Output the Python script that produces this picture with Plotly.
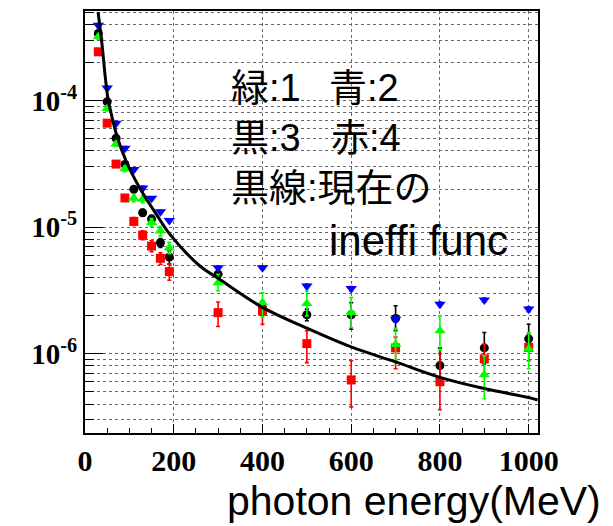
import plotly.graph_objects as go

# Photon energy bins (MeV)
energy = [30, 50, 70, 90, 110, 130, 150, 170, 190, 300, 400, 500, 600, 700, 800, 900, 1000]

# Inefficiency for configuration 1 (green)
green_val = [3.19e-4, 8.65e-5, 4.53e-5, 2.89e-5, 1.69e-5, 1.66e-5, 1.09e-5, 9.3e-6, 6.87e-6,
             3.64e-6, 2.53e-6, 2.49e-6, 2.11e-6, 1.18e-6, 1.52e-6, 6.8e-7, 1.09e-6]
green_err_hi = [1.4e-5, 3.5e-6, 1.8e-6, 1.3e-6, 1.0e-6, 1.0e-6, 8e-7, 8e-7, 7e-7,
                6e-7, 5e-7, 6.4e-7, 6.6e-7, 4.1e-7, 4.7e-7, 2.8e-7, 3.8e-7]
green_err_lo = [1.4e-5, 3.5e-6, 1.8e-6, 1.3e-6, 1.0e-6, 1.0e-6, 8e-7, 8e-7, 7e-7,
                5e-7, 6e-7, 5e-7, 5e-7, 3e-7, 4.6e-7, 2.4e-7, 3.3e-7]

# Configuration 2 (blue)
blue_val = [3.94e-4, 1.26e-4, 6.63e-5, 4.21e-5, 2.85e-5, 2.04e-5, 1.69e-5, 1.32e-5, 1.13e-5,
            4.78e-6, 4.78e-6, 3.43e-6, 3.27e-6, 1.87e-6, 2.46e-6, 2.65e-6, 2.25e-6]
blue_err = [1.2e-5, 4e-6, 2e-6, 1.3e-6, 9e-7, 6e-7, 5e-7, 4e-7, 3.5e-7,
            1.5e-7, 1.5e-7, 1.2e-7, 1.2e-7, 1e-7, 1e-7, 1e-7, 1e-7]

# Configuration 3 (black)
black_val = [3.39e-4, 9.8e-5, 5.05e-5, 3.13e-5, 1.99e-5, 1.30e-5, 1.16e-5, 7.52e-6, 5.81e-6,
             4.25e-6, 2.3e-6, 2.03e-6, 2.03e-6, 1.90e-6, 8.05e-7, 1.11e-6, 1.31e-6]
black_err_hi = [1.5e-5, 4e-6, 2e-6, 1.4e-6, 1e-6, 8e-7, 8e-7, 6e-7, 7e-7,
                3e-7, 3e-7, 2.2e-7, 5e-7, 4.9e-7, 3e-7, 3.6e-7, 4e-7]
black_err_lo = [1.5e-5, 4e-6, 2e-6, 1.4e-6, 1e-6, 8e-7, 8e-7, 6e-7, 7e-7,
                3e-7, 3e-7, 2.1e-7, 4.7e-7, 3.8e-7, 2e-7, 2.8e-7, 2.5e-7]

# Configuration 4 (red)
red_val = [2.43e-4, 6.63e-5, 3.15e-5, 1.70e-5, 1.11e-5, 8.65e-6, 7.08e-6, 5.67e-6, 4.45e-6,
           2.11e-6, 2.18e-6, 1.20e-6, 6.2e-7, 1.11e-6, 6.0e-7, 9.1e-7, 1.12e-6]
red_err_hi = [1.2e-5, 3e-6, 1.6e-6, 1e-6, 8e-7, 7e-7, 7e-7, 6e-7, 6.5e-7,
              4.5e-7, 3.7e-7, 3.2e-7, 2.6e-7, 2.4e-7, 4e-7, 2.8e-7, 3.1e-7]
red_err_lo = [1.2e-5, 3e-6, 1.6e-6, 1e-6, 8e-7, 7e-7, 7e-7, 6e-7, 6.5e-7,
              4.7e-7, 4.7e-7, 3.5e-7, 2.4e-7, 3.5e-7, 2.4e-7, 2.2e-7, 2.4e-7]

# Current inefficiency function (black line)
func_x = [29.5, 38.4, 46, 52, 58, 71, 93, 123, 161, 191, 259, 300, 400, 500, 600, 700, 800, 900, 1000, 1020]
func_y = [5.0e-4, 2.77e-4, 1.5e-4, 1.02e-4, 8.2e-5, 5.4e-5, 3.3e-5, 2.05e-5, 1.26e-5, 8.8e-6,
          4.93e-6, 3.94e-6, 2.32e-6, 1.59e-6, 1.13e-6, 8.6e-7, 6.5e-7, 5.3e-7, 4.5e-7, 4.3e-7]

# Axis ticks
x_major = [0, 200, 400, 600, 800, 1000]
y_major = [1e-6, 1e-5, 1e-4]
y_major_text = ["10<sup>-6</sup>", "10<sup>-5</sup>", "10<sup>-4</sup>"]
y_minor = [3e-7, 4e-7, 5e-7, 6e-7, 7e-7, 8e-7, 9e-7,
           2e-6, 3e-6, 4e-6, 5e-6, 6e-6, 7e-6, 8e-6, 9e-6,
           2e-5, 3e-5, 4e-5, 5e-5, 6e-5, 7e-5, 8e-5, 9e-5,
           2e-4, 3e-4, 4e-4, 5e-4]

fig = go.Figure()


def add_series(vals, hi, lo, color, symbol, size):
    fig.add_trace(go.Scatter(
        x=energy, y=vals, mode="markers",
        marker=dict(color=color, symbol=symbol, size=size, line=dict(width=0)),
        error_y=dict(type="data", symmetric=False, array=hi, arrayminus=lo,
                     color=color, thickness=1.6, width=2),
        showlegend=False,
    ))


add_series(black_val, black_err_hi, black_err_lo, "#000000", "circle", 9)
add_series(red_val, red_err_hi, red_err_lo, "#ff0000", "square", 9)
add_series(green_val, green_err_hi, green_err_lo, "#00ff00", "triangle-up", 10)
add_series(blue_val, blue_err, blue_err, "#0000ff", "triangle-down", 10)

fig.add_trace(go.Scatter(
    x=func_x, y=func_y, mode="lines", line=dict(color="black", width=3, shape="spline"),
    showlegend=False,
))

grid = dict(showgrid=True, gridcolor="#666666", griddash="dot", gridwidth=1)

fig.update_xaxes(
    range=[0, 1021], tickmode="array", tickvals=x_major,
    ticks="inside", ticklen=9, tickwidth=1, tickcolor="black",
    tickfont=dict(family="Liberation Serif", size=30, color="black", weight="bold"),
    showline=True, linecolor="black", linewidth=2, mirror=True,
    zeroline=False,
    minor=dict(dtick=50, tick0=0, ticks="inside", ticklen=5, tickcolor="black", showgrid=False),
    **grid,
)
fig.update_yaxes(
    type="log", range=[-6.627, -3.292], tickmode="array",
    tickvals=y_major, ticktext=y_major_text,
    ticks="inside", ticklen=18, tickwidth=1, tickcolor="black",
    tickfont=dict(family="Liberation Serif", size=29, color="black", weight="bold"),
    showline=True, linecolor="black", linewidth=2, mirror=True,
    zeroline=False,
    minor=dict(tickmode="array", tickvals=y_minor, ticks="inside", ticklen=9,
               tickcolor="black", showgrid=True, gridcolor="#666666", griddash="dot"),
    **grid,
)

jp_font = dict(family="Liberation Sans, Noto Sans CJK JP", size=38, color="black")
notes = [
    ("緑:1", 0.317, 0.817, 38),
    ("青:2", 0.535, 0.817, 38),
    ("黒:3", 0.317, 0.699, 38),
    ("赤:4", 0.538, 0.699, 38),
    ("黒線:現在の", 0.317, 0.581, 38),
    ("ineffi func", 0.535, 0.455, 42),
]
for txt, px, py, fs in notes:
    fig.add_annotation(text=txt, x=px, y=py, xref="paper", yref="paper",
                       xanchor="left", yanchor="middle", showarrow=False,
                       font=dict(jp_font, size=fs))

fig.add_annotation(text="photon energy(MeV)", x=1.143, y=-0.162, xref="paper", yref="paper",
                   xanchor="right", yanchor="middle", showarrow=False,
                   font=dict(family="Liberation Sans", size=41, color="black"))

fig.update_layout(
    width=613, height=526,
    margin=dict(l=85, r=75, t=9, b=93),
    paper_bgcolor="white", plot_bgcolor="white",
)

fig.write_html("out.html")
